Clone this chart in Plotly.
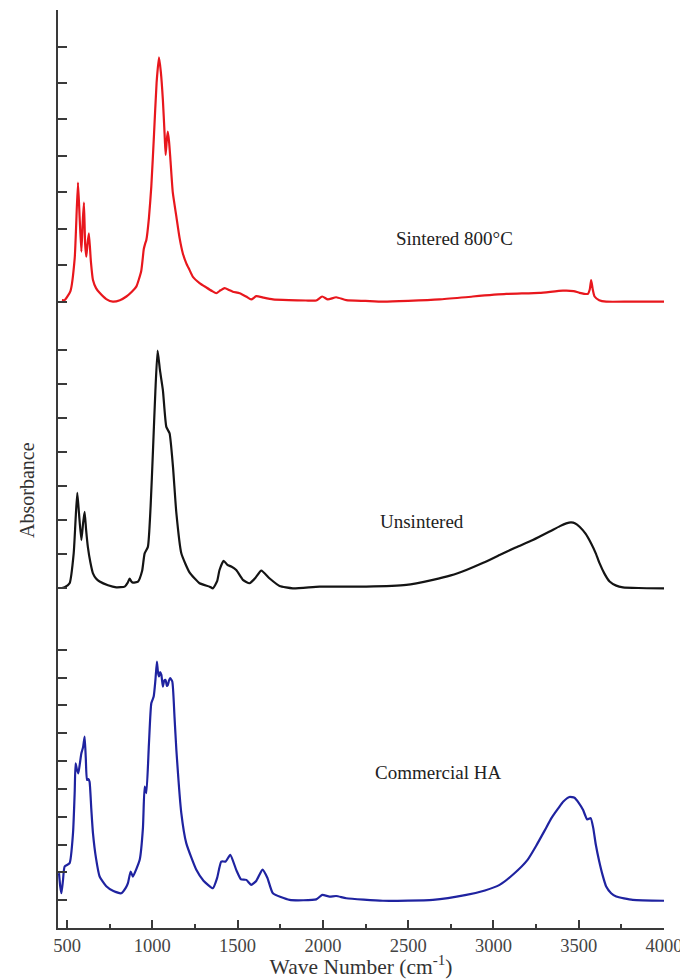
import plotly.graph_objects as go

# ---- data ----
wn_sintered = [470, 486, 520, 545, 564, 574, 584, 592, 599, 606, 613, 620, 628, 640, 652, 670, 691, 730, 769, 810,
               848, 880, 906, 935, 950, 958, 965, 980, 994, 1010, 1025, 1039, 1050, 1062, 1072, 1078, 1085, 1091,
               1098, 1105, 1120, 1141, 1160, 1179, 1200, 1218, 1238, 1277, 1316, 1350, 1375, 1400, 1424, 1450,
               1472, 1512, 1550, 1580, 1610, 1650, 1707, 1800, 1900, 1961, 1996, 2029, 2078, 2137, 2250, 2352,
               2500, 2684, 2879, 3075, 3270, 3407, 3470, 3505, 3553, 3565, 3573, 3582, 3593, 3620, 3661, 3800, 4000]
abs_sintered = [0.05, 0.05, 0.3, 1.2, 3.27, 2.3, 1.38, 2.2, 2.72, 1.6, 1.24, 1.6, 1.88, 1.1, 0.60, 0.38, 0.25, 0.08,
                0.01, 0.05, 0.15, 0.28, 0.42, 0.85, 1.45, 1.6, 1.7, 2.3, 3.16, 4.6, 6.0, 6.70, 6.3, 5.53, 4.6, 4.03,
                4.45, 4.67, 4.4, 3.98, 3.0, 2.34, 1.75, 1.33, 1.05, 0.88, 0.69, 0.52, 0.40, 0.30, 0.24, 0.32, 0.38,
                0.33, 0.28, 0.24, 0.15, 0.07, 0.16, 0.12, 0.07, 0.05, 0.04, 0.04, 0.15, 0.07, 0.13, 0.05, 0.03, 0.01,
                0.03, 0.07, 0.15, 0.22, 0.25, 0.31, 0.30, 0.25, 0.22, 0.35, 0.60, 0.35, 0.15, 0.05, 0.01, 0.01, 0.01]

wn_unsintered = [470, 486, 515, 539, 550, 560, 570, 584, 594, 603, 612, 622, 637, 652, 670, 691, 740, 789, 838, 855,
                 867, 876, 886, 916, 940, 955, 974, 990, 1004, 1018, 1031, 1045, 1062, 1082, 1101, 1121, 1141, 1170,
                 1219, 1277, 1336, 1355, 1380, 1394, 1418, 1440, 1463, 1492, 1531, 1570, 1605, 1639, 1688, 1746,
                 1824, 1981, 2254, 2489, 2645, 2750, 2841, 2940, 3036, 3130, 3231, 3329, 3390, 3427, 3455, 3480,
                 3505, 3540, 3573, 3600, 3622, 3650, 3681, 3720, 3759, 3850, 4000]
abs_unsintered = [1.0, 1.02, 1.14, 2.02, 3.0, 3.80, 3.2, 2.41, 2.9, 3.24, 2.7, 2.21, 1.75, 1.43, 1.28, 1.19, 1.08,
                  1.02, 1.04, 1.15, 1.28, 1.2, 1.16, 1.19, 1.5, 2.02, 2.21, 3.4, 5.06, 6.8, 7.98, 7.4, 6.82, 5.74,
                  5.55, 4.57, 3.20, 2.02, 1.45, 1.14, 1.04, 0.99, 1.2, 1.53, 1.80, 1.68, 1.63, 1.53, 1.24, 1.14, 1.3,
                  1.51, 1.28, 1.06, 0.99, 1.04, 1.04, 1.09, 1.24, 1.37, 1.53, 1.74, 1.97, 2.19, 2.41, 2.66, 2.82,
                  2.90, 2.93, 2.90, 2.80, 2.6, 2.31, 2.02, 1.73, 1.43, 1.19, 1.07, 1.02, 1.0, 0.99]

wn_commercial = [453, 460, 467, 476, 486, 515, 535, 545, 550, 558, 566, 575, 584, 594, 603, 610, 617, 625, 632, 642,
                 652, 670, 691, 730, 769, 818, 845, 857, 873, 886, 905, 926, 945, 955, 965, 980, 994, 1008, 1018,
                 1027, 1033, 1039, 1046, 1053, 1062, 1070, 1078, 1085, 1091, 1098, 1105, 1117, 1130, 1141, 1170,
                 1199, 1258, 1300, 1355, 1380, 1404, 1430, 1457, 1492, 1520, 1551, 1580, 1610, 1646, 1675, 1707,
                 1805, 1961, 1996, 2039, 2078, 2137, 2352, 2645, 2841, 2950, 3036, 3120, 3200, 3250, 3300, 3340,
                 3380, 3410, 3446, 3475, 3500, 3525, 3550, 3570, 3585, 3600, 3620, 3640, 3661, 3690, 3720, 3817,
                 4000]
abs_commercial = [1.97, 1.5, 1.25, 1.7, 2.21, 2.33, 3.41, 4.9, 5.92, 5.7, 5.56, 5.9, 6.28, 6.5, 6.88, 6.1, 5.32,
                  5.35, 5.26, 4.3, 3.41, 2.5, 1.85, 1.5, 1.34, 1.25, 1.45, 1.61, 2.03, 1.85, 2.1, 2.45, 3.6, 5.08,
                  4.85, 6.6, 8.08, 8.32, 8.9, 9.58, 9.2, 9.04, 9.2, 9.10, 8.68, 8.9, 8.92, 8.7, 8.74, 8.9, 8.98,
                  8.86, 7.6, 6.40, 4.13, 3.05, 2.09, 1.7, 1.43, 1.8, 2.39, 2.39, 2.63, 2.09, 1.75, 1.73, 1.55, 1.7,
                  2.1, 1.8, 1.25, 1.01, 1.03, 1.19, 1.13, 1.15, 1.07, 0.98, 1.01, 1.19, 1.35, 1.55, 1.95, 2.45,
                  2.95, 3.5, 3.95, 4.3, 4.55, 4.71, 4.68, 4.5, 4.25, 3.9, 3.95, 3.6, 3.0, 2.4, 1.9, 1.49, 1.25,
                  1.13, 1.01, 0.98]

labels = ["Sintered 800°C", "Unsintered", "Commercial HA"]
x_ticks = [500, 1000, 1500, 2000, 2500, 3000, 3500, 4000]

# ---- figure ----
SERIF = "Liberation Serif, Times New Roman, serif"
AXC = "#3a3a3a"
OFF = 8  # page body margin offset

W, H = 688 - OFF, 979 - OFF
plot_left, plot_right = 58 - OFF, 664 - OFF
top, bottom = 10 - OFF, 928 - OFF
ph = bottom - top
pw = plot_right - plot_left


def dom(y_top_ref, y_bot_ref):
    return [(928 - y_bot_ref) / ph, (928 - y_top_ref) / ph]


LW = 2.2
fig = go.Figure()
fig.add_trace(go.Scatter(x=wn_commercial, y=abs_commercial, xaxis="x", yaxis="y",
                         mode="lines", line=dict(color="#1f23a0", width=LW, shape="spline", smoothing=0.5),
                         name=labels[2]))
fig.add_trace(go.Scatter(x=wn_unsintered, y=abs_unsintered, xaxis="x", yaxis="y2",
                         mode="lines", line=dict(color="#141414", width=LW, shape="spline", smoothing=0.5),
                         name=labels[1]))
fig.add_trace(go.Scatter(x=wn_sintered, y=abs_sintered, xaxis="x", yaxis="y3",
                         mode="lines", line=dict(color="#e8171d", width=LW, shape="spline", smoothing=0.5),
                         name=labels[0]))

common_y = dict(showline=True, linecolor=AXC, linewidth=2, ticks="inside", ticklen=9, tickwidth=2,
                tickcolor=AXC, showticklabels=False, showgrid=False, zeroline=False, fixedrange=True)

fig.update_layout(
    width=W, height=H,
    margin=dict(l=plot_left, r=W - plot_right, t=top, b=H - bottom),
    paper_bgcolor="white", plot_bgcolor="white",
    showlegend=False,
    xaxis=dict(range=[447, 4000], tickvals=x_ticks, ticks="inside", ticklen=8, tickwidth=2,
               tickcolor=AXC, showline=True, linecolor=AXC, linewidth=2, showgrid=False, zeroline=False,
               minor=dict(ticks="inside", ticklen=4, tickwidth=2, tickcolor=AXC, tick0=750, dtick=500),
               tickfont=dict(family=SERIF, size=18.5, color="#444444"),
               title=dict(text="Wave Number (cm<sup>-1</sup>)", font=dict(family=SERIF, size=21.5, color="#333333"),
                          standoff=0),
               anchor="y"),
    yaxis=dict(domain=dom(622, 928), range=[0, 11], tickvals=list(range(1, 12)), **common_y),
    yaxis2=dict(domain=dom(316, 622), range=[0, 9], tickvals=list(range(0, 10)), anchor="x", **common_y),
    yaxis3=dict(domain=dom(10, 316), range=[-0.384, 8.0], tickvals=list(range(0, 9)), anchor="x", **common_y),
)

ann_font = dict(family=SERIF, size=19, color="#222222")
fig.add_annotation(x=2772, y=1.75, xref="x", yref="y3", text=labels[0], showarrow=False, font=ann_font,
                   xanchor="center", yanchor="middle")
fig.add_annotation(x=2579, y=2.97, xref="x", yref="y2", text=labels[1], showarrow=False, font=ann_font,
                   xanchor="center", yanchor="middle")
fig.add_annotation(x=2673, y=5.58, xref="x", yref="y", text=labels[2], showarrow=False, font=ann_font,
                   xanchor="center", yanchor="middle")
fig.add_annotation(x=-31 / pw, y=(928 - 490) / ph, xref="paper", yref="paper", text="Absorbance",
                   textangle=-90, showarrow=False, xanchor="center", yanchor="middle",
                   font=dict(family=SERIF, size=20, color="#333333"))

fig.write_html("out.html")
